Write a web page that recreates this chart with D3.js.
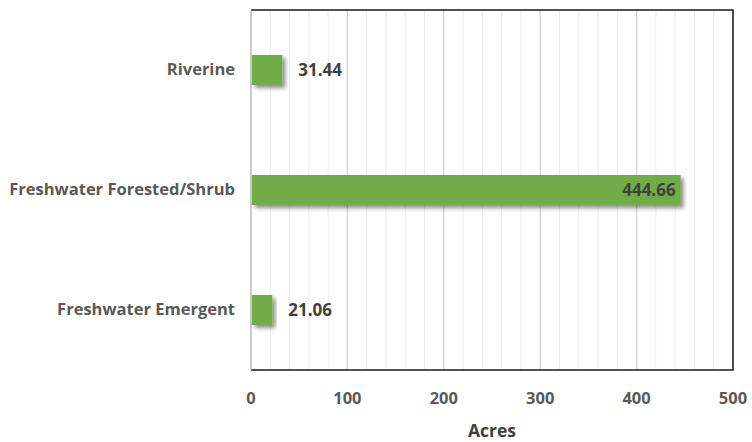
<!DOCTYPE html>
<html><head><meta charset="utf-8">
<script src="https://cdn.jsdelivr.net/npm/d3@7"></script>
<style>body{margin:0;background:#fff}svg{display:block}</style>
</head><body>
<script>
const categories = ["Riverine", "Freshwater Forested/Shrub", "Freshwater Emergent"];
const values = [31.44, 444.66, 21.06];
const xTicks = [0, 100, 200, 300, 400, 500];
const xTitle = "Acres";

const W = 752, H = 442;
const m = {left: 251, right: 19, top: 10, bottom: 72};
const svg = d3.select("body").append("svg").attr("width", W).attr("height", H);
const font = "'Open Sans', sans-serif";

const defs = svg.append("defs");
const f = defs.append("filter").attr("id","sh").attr("x","-10%").attr("y","-30%").attr("width","130%").attr("height","180%");
f.append("feDropShadow").attr("dx",3).attr("dy",3).attr("stdDeviation",2.2).attr("flood-color","#000").attr("flood-opacity",0.45);

const x = d3.scaleLinear().domain([0, 500]).range([m.left, W - m.right]);
const y = d3.scaleBand().domain(categories).range([m.top, H - m.bottom]).paddingInner(0.75).paddingOuter(0.375);

// minor gridlines
const minor = d3.range(0, 501, 20).filter(v => v % 100 !== 0);
svg.append("g").selectAll("line").data(minor).join("line")
  .attr("x1", d => x(d)).attr("x2", d => x(d)).attr("y1", m.top).attr("y2", H - m.bottom)
  .attr("stroke", "#ececec").attr("stroke-width", 1);
svg.append("g").selectAll("line").data(xTicks).join("line")
  .attr("x1", d => x(d)).attr("x2", d => x(d)).attr("y1", m.top).attr("y2", H - m.bottom)
  .attr("stroke", "#d4d4d4").attr("stroke-width", 1.3);

// border
svg.append("path")
  .attr("d", `M${m.left},${m.top}H${W-m.right}V${H-m.bottom}H${m.left}`)
  .attr("fill","none").attr("stroke","#1a1a1a").attr("stroke-width",1.5);
svg.append("line").attr("x1",m.left).attr("x2",m.left).attr("y1",m.top).attr("y2",H-m.bottom)
  .attr("stroke","#bfbfbf").attr("stroke-width",1.3);

// bars
svg.append("g").selectAll("rect").data(values).join("rect")
  .attr("x", x(0) + 1).attr("y", (d,i) => y(categories[i]))
  .attr("width", d => x(d) - x(0)).attr("height", y.bandwidth())
  .attr("fill", "#70ad47").attr("filter","url(#sh)");

// data labels
svg.append("g").selectAll("text").data(values).join("text")
  .attr("x", d => d > 300 ? x(d) - 4 : x(d) + 17)
  .attr("y", (d,i) => y(categories[i]) + y.bandwidth()/2 + 1)
  .attr("text-anchor", d => d > 300 ? "end" : "start")
  .attr("dominant-baseline","middle")
  .attr("font-family", font).attr("font-weight","bold").attr("font-size", 17)
  .attr("fill","#404040").text(d => d.toFixed(2));

// category labels
svg.append("g").selectAll("text").data(categories).join("text")
  .attr("x", m.left - 16).attr("y", d => y(d) + y.bandwidth()/2 + 1)
  .attr("text-anchor","end").attr("dominant-baseline","middle")
  .attr("font-family", font).attr("font-weight","bold").attr("font-size", 16.5)
  .attr("fill","#595959").text(d => d);

// x tick labels
svg.append("g").selectAll("text").data(xTicks).join("text")
  .attr("x", d => x(d)).attr("y", 400)
  .attr("text-anchor","middle").attr("dominant-baseline","middle")
  .attr("font-family", font).attr("font-weight","bold").attr("font-size", 16.5)
  .attr("fill","#595959").text(d => d);

svg.append("text").attr("x", (m.left + W - m.right)/2).attr("y", 432)
  .attr("text-anchor","middle").attr("dominant-baseline","middle")
  .attr("font-family", font).attr("font-weight","bold").attr("font-size", 17.5)
  .attr("fill","#404040").text(xTitle);
</script>
</body></html>
